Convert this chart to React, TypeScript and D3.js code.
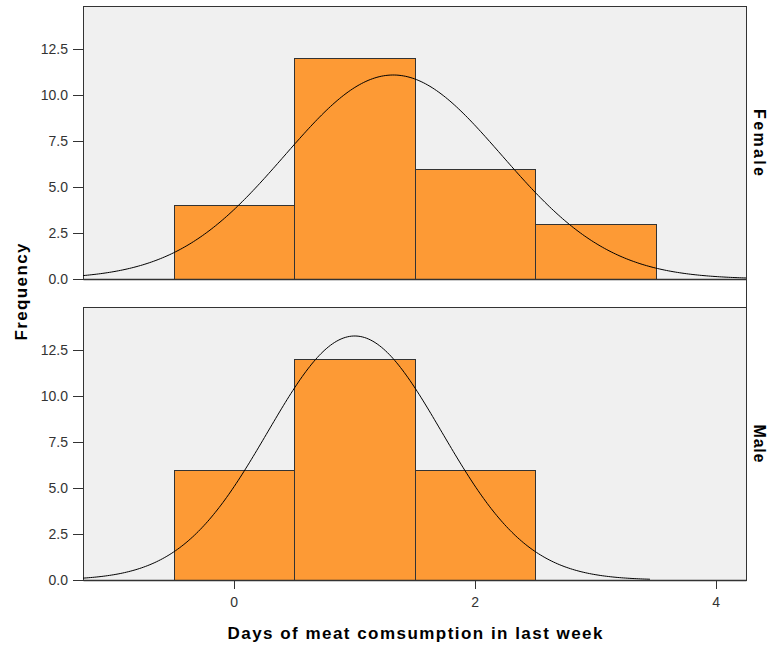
import React from "react";
import * as d3 from "d3";

// ---- data ----
const binCenters = [0, 1, 2, 3];
const femaleCounts = [4, 12, 6, 3];
const maleCounts = [6, 12, 6, 0];
const panelNames = ["Female", "Male"];
const yTicks = [0, 2.5, 5, 7.5, 10, 12.5];
const xTicks = [0, 2, 4];
const xDomain = [-1.255, 4.247];
const yDomain = [0, 14.83];
const curveEnds = [4.247, 3.45];
const xTitle = "Days of meat comsumption in last week";
const yTitle = "Frequency";

const W = 772;
const H = 648;
const left = 83;
const right = 746;
const panelTops = [6, 307];
const panelBottoms = [279, 580];
const stripLens = [67, 38];
const FONT = "'Liberation Sans', Arial, sans-serif";
const BAR = "#fd9a35";
const LINE = "#333";

function stats(counts: number[]) {
  const n = d3.sum(counts);
  const mean = d3.sum(counts.map((c, i) => c * binCenters[i])) / n;
  const ss = d3.sum(counts.map((c, i) => c * (binCenters[i] - mean) ** 2));
  const sd = Math.sqrt(ss / (n - 1));
  return { n, mean, sd };
}

function Panel({ idx, counts }: { idx: number; counts: number[] }) {
  const top = panelTops[idx];
  const bottom = panelBottoms[idx];
  const x = d3.scaleLinear().domain(xDomain).range([left, right]);
  const y = d3.scaleLinear().domain(yDomain).range([bottom, top]);
  const { n, mean, sd } = stats(counts);
  const pts: [number, number][] = [];
  const steps = 300;
  for (let k = 0; k <= steps; k++) {
    const xv = xDomain[0] + ((curveEnds[idx] - xDomain[0]) * k) / steps;
    const yv = (n * 1) / (sd * Math.sqrt(2 * Math.PI)) * Math.exp(-0.5 * ((xv - mean) / sd) ** 2);
    pts.push([x(xv), y(yv)]);
  }
  const line = d3.line();
  return (
    <g>
      <rect x={left + 0.5} y={top + 0.5} width={right - left} height={bottom - top} fill="#f0f0f0" stroke={LINE} strokeWidth={1} />
      {counts.map((c, i) =>
        c > 0 ? (
          <rect
            key={i}
            x={Math.round(x(binCenters[i] - 0.5)) + 0.5}
            y={Math.round(y(c)) + 0.5}
            width={Math.round(x(binCenters[i] + 0.5)) - Math.round(x(binCenters[i] - 0.5))}
            height={Math.round(y(0)) - Math.round(y(c))}
            fill={BAR}
            stroke={LINE}
            strokeWidth={1}
          />
        ) : null
      )}
      <path d={line(pts) || ""} fill="none" stroke="#000" strokeWidth={1} />
      <line x1={left + 0.5} x2={right + 0.5} y1={bottom + 0.5} y2={bottom + 0.5} stroke={LINE} strokeWidth={1.5} />
      {yTicks.map((t) => (
        <g key={t}>
          <line x1={left - 10} x2={left} y1={Math.round(y(t)) + 0.5} y2={Math.round(y(t)) + 0.5} stroke={LINE} strokeWidth={1} />
          <text x={left - 15} y={y(t)} dy="0.36em" textAnchor="end" fontFamily={FONT} fontSize={14} fill="#333">
            {d3.format(".1f")(t)}
          </text>
        </g>
      ))}
      <text
        transform={`translate(${760},${(top + bottom) / 2}) rotate(90)`}
        textAnchor="middle"
        dy="0.36em"
        fontFamily={FONT}
        fontSize={16}
        fontWeight="bold"
        fill="#000"
        textLength={stripLens[idx]}
        lengthAdjust="spacing"
      >
        {panelNames[idx]}
      </text>
    </g>
  );
}

export default function App() {
  const x = d3.scaleLinear().domain(xDomain).range([left, right]);
  const bottom = panelBottoms[1];
  return (
    <svg width={W} height={H} style={{ position: "absolute", left: 0, top: 0, background: "#fff" }}>
      <rect width={W} height={H} fill="#fff" />
      <Panel idx={0} counts={femaleCounts} />
      <Panel idx={1} counts={maleCounts} />
      <line x1={right + 0.5} x2={right + 0.5} y1={panelTops[0]} y2={bottom + 1} stroke={LINE} strokeWidth={1} />
      {xTicks.map((t) => (
        <g key={t}>
          <line x1={Math.round(x(t)) + 0.5} x2={Math.round(x(t)) + 0.5} y1={bottom} y2={bottom + 9} stroke={LINE} strokeWidth={1} />
          <text x={x(t)} y={607} textAnchor="middle" fontFamily={FONT} fontSize={14} fill="#333">
            {t}
          </text>
        </g>
      ))}
      <text
        x={415}
        y={639}
        textAnchor="middle"
        fontFamily={FONT}
        fontSize={17}
        fontWeight="bold"
        fill="#000"
        textLength={375}
        lengthAdjust="spacing"
      >
        {xTitle}
      </text>
      <text
        transform={`translate(${21},${292}) rotate(-90)`}
        textAnchor="middle"
        dy="0.36em"
        fontFamily={FONT}
        fontSize={17}
        fontWeight="bold"
        fill="#000"
        textLength={97}
        lengthAdjust="spacing"
      >
        {yTitle}
      </text>
    </svg>
  );
}
